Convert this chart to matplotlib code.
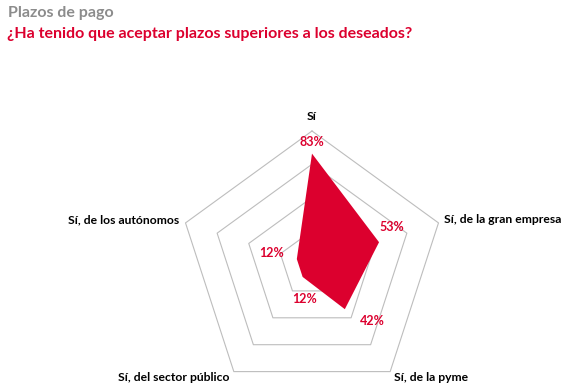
import numpy as np
import matplotlib
matplotlib.use("Agg")
import matplotlib.pyplot as plt

# Data
categories = ["Sí", "Sí, de la gran empresa", "Sí, de la pyme",
              "Sí, del sector público", "Sí, de los autónomos"]
values = [83, 53, 42, 12, 12]
value_labels = ["83%", "53%", "42%", "12%", "12%"]
ring_levels = [25, 50, 75, 100]
r_max = 100

RED = "#dc002e"
GRAY = "#8c8c8c"
plt.rcParams['font.family'] = ['Lato', 'DejaVu Sans']

W, H = 572, 392
cx, cy, R = 312, 264, 133  # centre and radius in pixels

fig = plt.figure(figsize=(W / 100, H / 100), dpi=100)
ax = fig.add_axes([0, 0, 1, 1])
ax.set_xlim(-cx / R, (W - cx) / R)
ax.set_ylim(-(H - cy) / R, cy / R)
ax.axis("off")

n = len(categories)
theta = np.arange(n) * 2 * np.pi / n  # clockwise from north


def to_xy(r, th):
    return r * np.sin(th), r * np.cos(th)


# pentagon grid
for lev in ring_levels:
    th = np.append(theta, theta[0])
    x, y = to_xy(lev / r_max, th)
    ax.plot(x, y, color="#bdbdbd", lw=0.8, zorder=1)

# data shape
vals = np.array(values) / r_max
x, y = to_xy(np.append(vals, vals[0]), np.append(theta, theta[0]))
ax.fill(x, y, color=RED, lw=0, zorder=2)

# value labels
val_offsets = [(0, 12), (13, 15), (27, -12), (2, -22), (-25, 6)]
for v, lab, th, off in zip(vals, value_labels, theta, val_offsets):
    px, py = to_xy(v, th)
    ax.annotate(lab, (px, py), xytext=off, textcoords="offset pixels",
                ha="center", va="center", color=RED, fontsize=9,
                fontweight="bold", zorder=3)

# category labels
cat_offsets = [(0, 15), (6, 3), (4, -6), (-4, -6), (-6, 3)]
cat_ha = ["center", "left", "left", "right", "right"]
for cat, th, off, ha in zip(categories, theta, cat_offsets, cat_ha):
    px, py = to_xy(1.0, th)
    ax.annotate(cat, (px, py), xytext=off, textcoords="offset pixels",
                ha=ha, va="center", color="black", fontsize=8.7,
                fontweight="bold")

fig.text(8 / W, 1 - 13 / H, "Plazos de pago", color=GRAY, fontsize=11.5,
         fontweight="bold", ha="left", va="center")
fig.text(7 / W, 1 - 34 / H, "¿Ha tenido que aceptar plazos superiores a los deseados?",
         color=RED, fontsize=11.5, fontweight="bold", ha="left", va="center")

fig.savefig("out.png", dpi=100)
